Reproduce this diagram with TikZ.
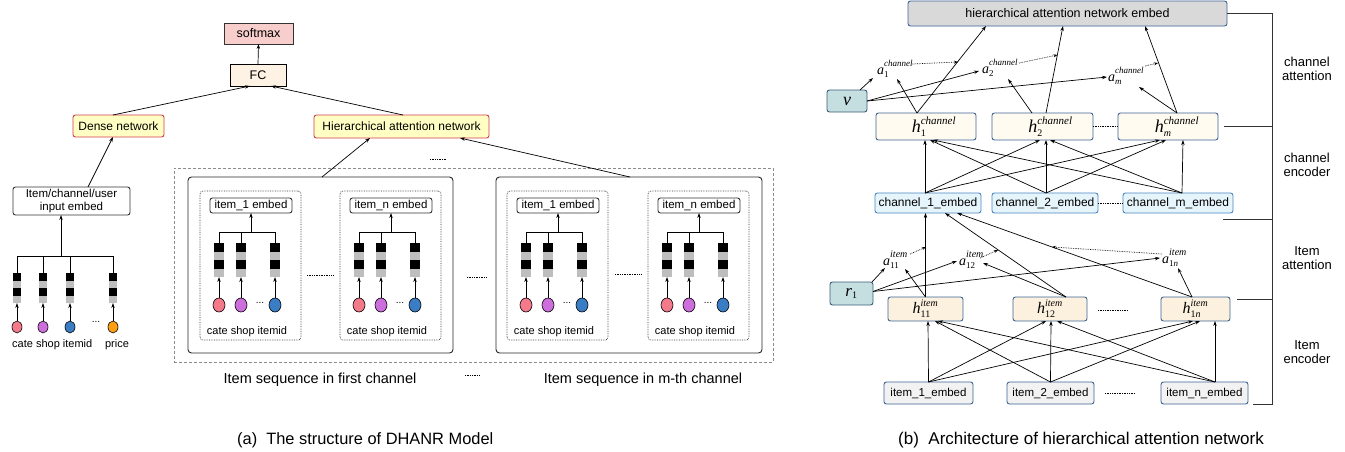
\documentclass[tikz,border=0pt]{standalone}
\usepackage{fontspec}
\setmainfont{Liberation Sans}
\newfontfamily\tms{Liberation Serif}
\usetikzlibrary{arrows.meta,shapes.geometric}
\definecolor{softmaxc}{RGB}{248,206,204}
\definecolor{fcc}{RGB}{253,242,228}
\definecolor{yelc}{RGB}{255,255,196}
\definecolor{redc}{RGB}{208,60,80}
\definecolor{pinkc}{RGB}{243,122,138}
\definecolor{purplec}{RGB}{204,111,221}
\definecolor{bluec}{RGB}{58,125,196}
\definecolor{orangec}{RGB}{255,160,20}
\definecolor{stackgray}{RGB}{190,190,190}
\definecolor{bordc}{RGB}{60,100,150}
\definecolor{hanfill}{RGB}{217,217,217}
\definecolor{tealc}{RGB}{197,222,224}
\definecolor{tealb}{RGB}{60,95,120}
\definecolor{creamc}{RGB}{255,251,240}
\definecolor{cembc}{RGB}{230,244,251}
\definecolor{cembb}{RGB}{74,134,192}
\definecolor{hitemc}{RGB}{252,241,222}
\definecolor{iembc}{RGB}{242,242,242}
\newcommand\fs[2]{\fontsize{#1}{#2}\selectfont}
\newcommand\pbox[7]{\node[#6,minimum width={(#4)-(#2)},minimum height={(#5)-(#3)}] (#1) at ({((#2)+(#4))/2},{((#3)+(#5))/2}) {#7};}
\newcommand\stk[5]{%
 \fill[black] ({#2-#5},{#3}) rectangle ({#2+#5},{#3+#4});
 \fill[stackgray] ({#2-#5},{#3+#4}) rectangle ({#2+#5},{#3+2*#4});
 \fill[black] ({#2-#5},{#3+2*#4}) rectangle ({#2+#5},{#3+3*#4});
 \fill[stackgray] ({#2-#5},{#3+3*#4}) rectangle ({#2+#5},{#3+4*#4});
 \node[inner sep=0,outer sep=0,minimum width={2*#5},minimum height={4*#4}] (#1) at ({#2},{#3+2*#4}) {};}
\newcommand\mv[6]{{\fs{#1}{#1}$\hbox{\tms\itshape #4}^{\hbox{\fs{#2}{#2}\tms\itshape #5}}_{\hbox{\fs{#3}{#3}\tms #6}}$}}
\newcommand\ma[6]{{\fs{#1}{#1}$\hbox{\tms\itshape #4}^{\raisebox{2.5pt}{\fs{#2}{#2}\tms\itshape #5}}_{\hbox{\fs{#3}{#3}\tms #6}}$}}
\tikzset{
 arr/.style={-{Stealth[length=5pt,width=3.4pt]}, line width=0.7pt},
 darr/.style={-{Stealth[length=4pt,width=3pt]}, densely dotted, line width=0.7pt},
 abox/.style={draw, line width=0.9pt, inner sep=0, outer sep=0, font=\fs{12}{14}},
 yel/.style={abox, draw=redc, fill=yelc, rounded corners=2.5pt},
 wbox/.style={abox, draw=black!80, fill=white, rounded corners=2.5pt},
 bbox/.style={draw=bordc, line width=0.9pt, inner sep=0, outer sep=0, rounded corners=2.5pt, font=\fs{12}{14}},
 dotbox/.style={draw=black!80, densely dotted, line width=0.7pt, rounded corners=3pt, inner sep=0, outer sep=0},
 chbox/.style={draw=black!85, line width=0.9pt, rounded corners=3.5pt, inner sep=0, outer sep=0},
 outerbox/.style={draw=black!45, dash pattern=on 3pt off 2pt, line width=0.8pt, inner sep=0, outer sep=0},
 dots/.style={densely dotted, line width=0.7pt},
 ell/.style={ellipse, draw=black, line width=0.6pt, inner sep=0, outer sep=0, minimum width=12, minimum height=14},
 sell/.style={ell, minimum width=10, minimum height=12},
 brk/.style={line width=0.8pt, draw=black!80},
 side/.style={align=center, font=\fs{13}{14.5}},
}
\newcommand\itemgrp[3]{%
 \pbox{#1box}{#2}{191}{#2+101}{340}{dotbox}{}
 \pbox{#1e}{#2+10}{198}{#2+92}{213}{wbox,font=\fs{11.5}{13}}{#3}
 \stk{#1s1}{#2+19}{243}{8.5}{5}
 \stk{#1s2}{#2+41}{243}{8.5}{5}
 \stk{#1s3}{#2+75}{243}{8.5}{5}
 \coordinate (#1bus) at ({#2+51},232);
 \draw[arr] (#1bus) -- (#1e.south);
 \draw[line width=0.7pt] (#1s1.north) |- (#1s3.north |- #1bus) -- (#1s3.north);
 \draw[line width=0.7pt] (#1s2.north) -- (#1s2.north |- #1bus);
 \node[ell, fill=pinkc] (#1c1) at ({#2+19},305) {};
 \node[ell, fill=purplec] (#1c2) at ({#2+41},305) {};
 \node[ell, fill=bluec] (#1c3) at ({#2+75},305) {};
 \draw[arr] (#1c1.north) -- (#1s1.south);
 \draw[arr] (#1c2.north) -- (#1s2.north |- #1s2.south);
 \draw[arr] (#1c3.north) -- (#1s3.south);
 \node[font=\fs{10}{10}] (#1dots) at ({#2+60},303) {...};
 \node[font=\fs{11}{12}] (#1lab) at ({#2+47},332) {cate shop itemid};
}
\begin{document}
\begin{tikzpicture}[x=1pt,y=-1pt,font=\fs{12}{14}]
\fill[white] (0,0) rectangle (1345,451);
\useasboundingbox (0,0) rectangle (1345,451);
% ---------------- part (a) ----------------
\pbox{softmax}{224}{23}{293}{44}{abox, draw=black!80, fill=softmaxc, font=\fs{12.5}{14}}{softmax}
\pbox{fc}{230}{64}{286}{86}{abox, draw=black, fill=fcc, font=\fs{12.5}{14}}{FC}
\pbox{dense}{73}{115}{164}{137}{yel}{Dense network}
\pbox{han}{314}{115}{489}{138}{yel}{Hierarchical attention network}
\pbox{inp}{13}{187}{130}{215}{wbox, align=center, font=\fs{11.5}{13.5}}{Item/channel/user\\input embed}
\draw[arr] (fc.north) -- (softmax.south);
\draw[arr] ([xshift=-5.5]dense.north) -- ([xshift=-8]fc.south);
\draw[arr] ([xshift=1.5]han.north) -- ([xshift=13]fc.south);
\draw[arr] ([xshift=16.5]inp.north) -- ([xshift=-5.5]dense.south);
% left inputs
\stk{L1}{17}{273}{7.5}{4}
\stk{L2}{43}{273}{7.5}{4}
\stk{L3}{70}{273}{7.5}{4}
\stk{L4}{113}{273}{7.5}{4}
\coordinate (lbus) at (61,256);
\draw[line width=0.7pt] (L1.north) |- (L4.north |- lbus) -- (L4.north);
\draw[line width=0.7pt] (L2.north) -- (L2.north |- lbus);
\draw[line width=0.7pt] (L3.north) -- (L3.north |- lbus);
\draw[arr] (lbus) -- (lbus |- inp.south);
\node[sell, fill=pinkc] (C1) at (17,327) {};
\node[sell, fill=purplec] (C2) at (43,327) {};
\node[sell, fill=bluec] (C3) at (70,327) {};
\node[sell, fill=orangec] (C4) at (113,327) {};
\draw[arr] (C1.north) -- (L1.south);
\draw[arr] (C2.north) -- (L2.south);
\draw[arr] (C3.north) -- (L3.south);
\draw[arr] (C4.north) -- (L4.south);
\node[font=\fs{10}{10}] (ldots) at (96,322) {...};
\node[font=\fs{11}{12}, anchor=west, inner sep=0] (llab) at (12,345) {cate shop itemid};
\node[font=\fs{11}{12}] (lprice) at (117,345) {price};
% channel sequences
\pbox{outer}{174}{168}{773}{362}{outerbox}{}
\pbox{ch1}{188}{177}{453}{353}{chbox}{}
\pbox{chm}{496}{177}{762}{353}{chbox}{}
\itemgrp{pa}{200}{item\_1 embed}
\itemgrp{pb}{340}{item\_n embed}
\itemgrp{pc}{507}{item\_1 embed}
\itemgrp{pd}{648}{item\_n embed}
\draw[dots] (307,275) -- (333,275);
\draw[dots] (615,274) -- (642,274);
\draw[dots] (467,277) -- (487,277);
\draw[dots] (465,375) -- (479,375);
\draw[dots] (430,159) -- (447,159);
\draw[arr] ([xshift=1.5]ch1.north) -- ([xshift=-31.5]han.south);
\draw[arr] ([xshift=1]chm.north) -- ([xshift=58.5]han.south);
\node[font=\fs{14.5}{16}] (cap1) at (320,380) {Item sequence in first channel};
\node[font=\fs{14.5}{16}] (capm) at (643,380) {Item sequence in m-th channel};
\node[font=\fs{16.4}{18}, anchor=west, inner sep=0] (capa) at (237,440) {(a)\ \ The structure of DHANR Model};
% ---------------- part (b) ----------------
\pbox{hane}{908}{1}{1227}{26}{bbox, fill=hanfill, font=\fs{12.5}{14}}{hierarchical attention network embed}
\pbox{v}{827}{90}{867}{112}{bbox, draw=tealb, fill=tealc}{\fs{18}{18}\tms\itshape v}
\pbox{h1}{876}{113}{976}{140}{bbox, fill=creamc}{\hspace*{16pt}\mv{18}{11}{10}{h}{channel}{1}}
\pbox{h2}{992}{113}{1093}{140}{bbox, fill=creamc}{\hspace*{16pt}\mv{18}{11}{10}{h}{channel}{2}}
\pbox{hm}{1118}{113}{1218}{140}{bbox, fill=creamc}{\hspace*{18pt}\mv{18}{11}{10}{h}{channel}{\textit{m}}}
\pbox{c1}{875}{193}{981}{213}{bbox, draw=cembb, fill=cembc}{channel\_1\_embed}
\pbox{c2}{992}{193}{1098}{213}{bbox, draw=cembb, fill=cembc}{channel\_2\_embed}
\pbox{cm}{1123}{193}{1233}{213}{bbox, draw=cembb, fill=cembc}{channel\_m\_embed}
\pbox{r1}{830}{282}{873}{305}{bbox, draw=tealb, fill=tealc}{{\fs{17}{17}$\hbox{\tms\itshape r}_{\hbox{\fs{10}{10}\tms 1}}$}}
\pbox{h11}{888}{297}{963}{321}{bbox, fill=hitemc}{\mv{16}{10}{10}{h}{item}{11}}
\pbox{h12}{1013}{297}{1087}{321}{bbox, fill=hitemc}{\mv{16}{10}{10}{h}{item}{12}}
\pbox{h1n}{1161}{297}{1230}{321}{bbox, fill=hitemc}{\mv{16}{10}{10}{h}{item}{1\textit{n}}}
\pbox{i1}{884}{382}{973}{404}{bbox, fill=iembc, font=\fs{11.5}{13}}{item\_1\_embed}
\pbox{i2}{1007}{382}{1094}{404}{bbox, fill=iembc, font=\fs{11.5}{13}}{item\_2\_embed}
\pbox{in}{1161}{382}{1248}{404}{bbox, fill=iembc, font=\fs{11.5}{13}}{item\_n\_embed}
\draw[dots] (h2.east) -- (hm.west);
\draw[dots] (c2.east) -- (cm.west);
\draw[dots] (1098,310) -- (1128,310);
\draw[dots] (1105,393) -- (1135,393);
% attention labels
\node[anchor=base west, inner sep=0] (a1) at (877,74) {\ma{14}{9}{9}{a}{channel}{1}};
\node[anchor=base west, inner sep=0] (a2) at (982,73) {\ma{14}{9}{9}{a}{channel}{2}};
\node[anchor=base west, inner sep=0] (am) at (1108,81) {\ma{14}{9}{9}{a}{channel}{\textit{m}}};
\node[anchor=base west, inner sep=0] (a11) at (883,265) {\ma{14}{10}{9}{a}{item}{11}};
\node[anchor=base west, inner sep=0] (a12) at (959,265) {\ma{14}{10}{9}{a}{item}{12}};
\node[anchor=base west, inner sep=0] (a1n) at (1162,263) {\ma{14}{10}{9}{a}{item}{1\textit{n}}};
% channel encoder
\draw[arr] ([xshift=-3]c1.north) -- ([xshift=-1]h1.south);
\draw[arr] ([xshift=-3]c1.north) -- ([xshift=-2.5]h2.south);
\draw[arr] ([xshift=-3]c1.north) -- ([xshift=-8]hm.south);
\draw[arr] ([xshift=1]c2.north) -- ([xshift=4]h1.south);
\draw[arr] ([xshift=1]c2.north) -- ([xshift=3.5]h2.south);
\draw[arr] ([xshift=1]c2.north) -- ([xshift=-2]hm.south);
\draw[arr] ([xshift=4]cm.north) -- ([xshift=7]h1.south);
\draw[arr] ([xshift=4]cm.north) -- ([xshift=7.5]h2.south);
\draw[arr] ([xshift=4]cm.north) -- ([xshift=15]hm.south);
% channel attention
\coordinate (a1v) at (873,78); \coordinate (a1h) at (897,79);
\coordinate (a2v) at (979,71); \coordinate (a2h) at (1008,79);
\coordinate (amv) at (1107,77); \coordinate (amh) at (1139,87);
\draw[arr] ([xshift=-7]v.north east) -- (a1v);
\draw[arr] (v.east) -- (a2v);
\draw[arr] (v.east) -- (amv);
\draw[arr] ([xshift=-9]h1.north) -- (a1h);
\draw[arr] ([xshift=-9]h1.north) -- ([xshift=-81.5]hane.south);
\draw[arr] ([xshift=-10.5]h2.north) -- (a2h);
\draw[arr] ([xshift=3.5]h2.north) -- ([xshift=-4.5]hane.south);
\draw[arr] ([xshift=9]hm.north) -- (amh);
\draw[arr] ([xshift=9]hm.north) -- ([xshift=77.5]hane.south);
\coordinate (d1s) at (912,64); \coordinate (d1e) at (958,62);
\coordinate (d2s) at (1019,63); \coordinate (d2e) at (1057.5,55);
\coordinate (d3s) at (1145,66); \coordinate (d3e) at (1158,63);
\draw[darr] (d1s) -- (d1e);
\draw[darr] (d2s) -- (d2e);
\draw[darr] (d3s) -- (d3e);
% item encoder
\draw[arr] (i1.north) -- ([xshift=2.5]h11.south);
\draw[arr] (i1.north) -- ([xshift=-4]h12.south);
\draw[arr] (i1.north) -- ([xshift=-2.5]h1n.south);
\draw[arr] (i2.north) -- ([xshift=9.5]h11.south);
\draw[arr] (i2.north) -- ([xshift=1]h12.south);
\draw[arr] (i2.north) -- ([xshift=4.5]h1n.south);
\draw[arr] ([xshift=10.5]in.north) -- ([xshift=12.5]h11.south);
\draw[arr] ([xshift=10.5]in.north) -- ([xshift=7]h12.south);
\draw[arr] ([xshift=10.5]in.north) -- ([xshift=19.5]h1n.south);
% item attention
\coordinate (a11r) at (885,268); \coordinate (a11h) at (905,269);
\coordinate (a12r) at (957,261); \coordinate (a12h) at (983,263);
\coordinate (a1nr) at (1160,258); \coordinate (a1nh) at (1178,268);
\draw[arr] ([xshift=-1]r1.north east) -- (a11r);
\draw[arr] ([yshift=2]r1.east) -- (a12r);
\draw[arr] ([yshift=2]r1.east) -- (a1nr);
\draw[arr] (h11.north) -- (a11h);
\draw[arr] (h11.north) -- (h11.north |- c1.south);
\draw[arr] ([xshift=16]h12.north) -- (a12h);
\draw[arr] ([xshift=16]h12.north) -- ([xshift=17]c1.south);
\draw[arr] ([xshift=-3.5]h1n.north) -- (a1nh);
\draw[arr] ([xshift=-3.5]h1n.north) -- ([xshift=29]c1.south);
\coordinate (e1s) at (910,254); \coordinate (e1e) at (926,247);
\coordinate (e2s) at (980,258); \coordinate (e2e) at (998,250);
\coordinate (e3s) at (1162,254); \coordinate (e3e) at (1052,247);
\draw[darr] (e1s) -- (e1e);
\draw[darr] (e2s) -- (e2e);
\draw[darr] (e3s) -- (e3e);
% right bracket
\draw[brk] (hane.east) -- (1272,13.5) -- (1272,404) -- (1253,404);
\draw[brk] ([xshift=6]hm.east) -- (1272,126.5);
\draw[brk] (1223,219) -- (1272,219);
\draw[brk] (1237,299) -- (1272,299);
\node[side] (lab1) at (1307,69) {channel\\attention};
\node[side] (lab2) at (1307,165) {channel\\encoder};
\node[side] (lab3) at (1307,258) {Item\\attention};
\node[side] (lab4) at (1307,352) {Item\\encoder};
\node[font=\fs{17}{19}, anchor=west, inner sep=0] (capb) at (898,440) {(b)\ \ Architecture of hierarchical attention network};
\end{tikzpicture}
\end{document}
